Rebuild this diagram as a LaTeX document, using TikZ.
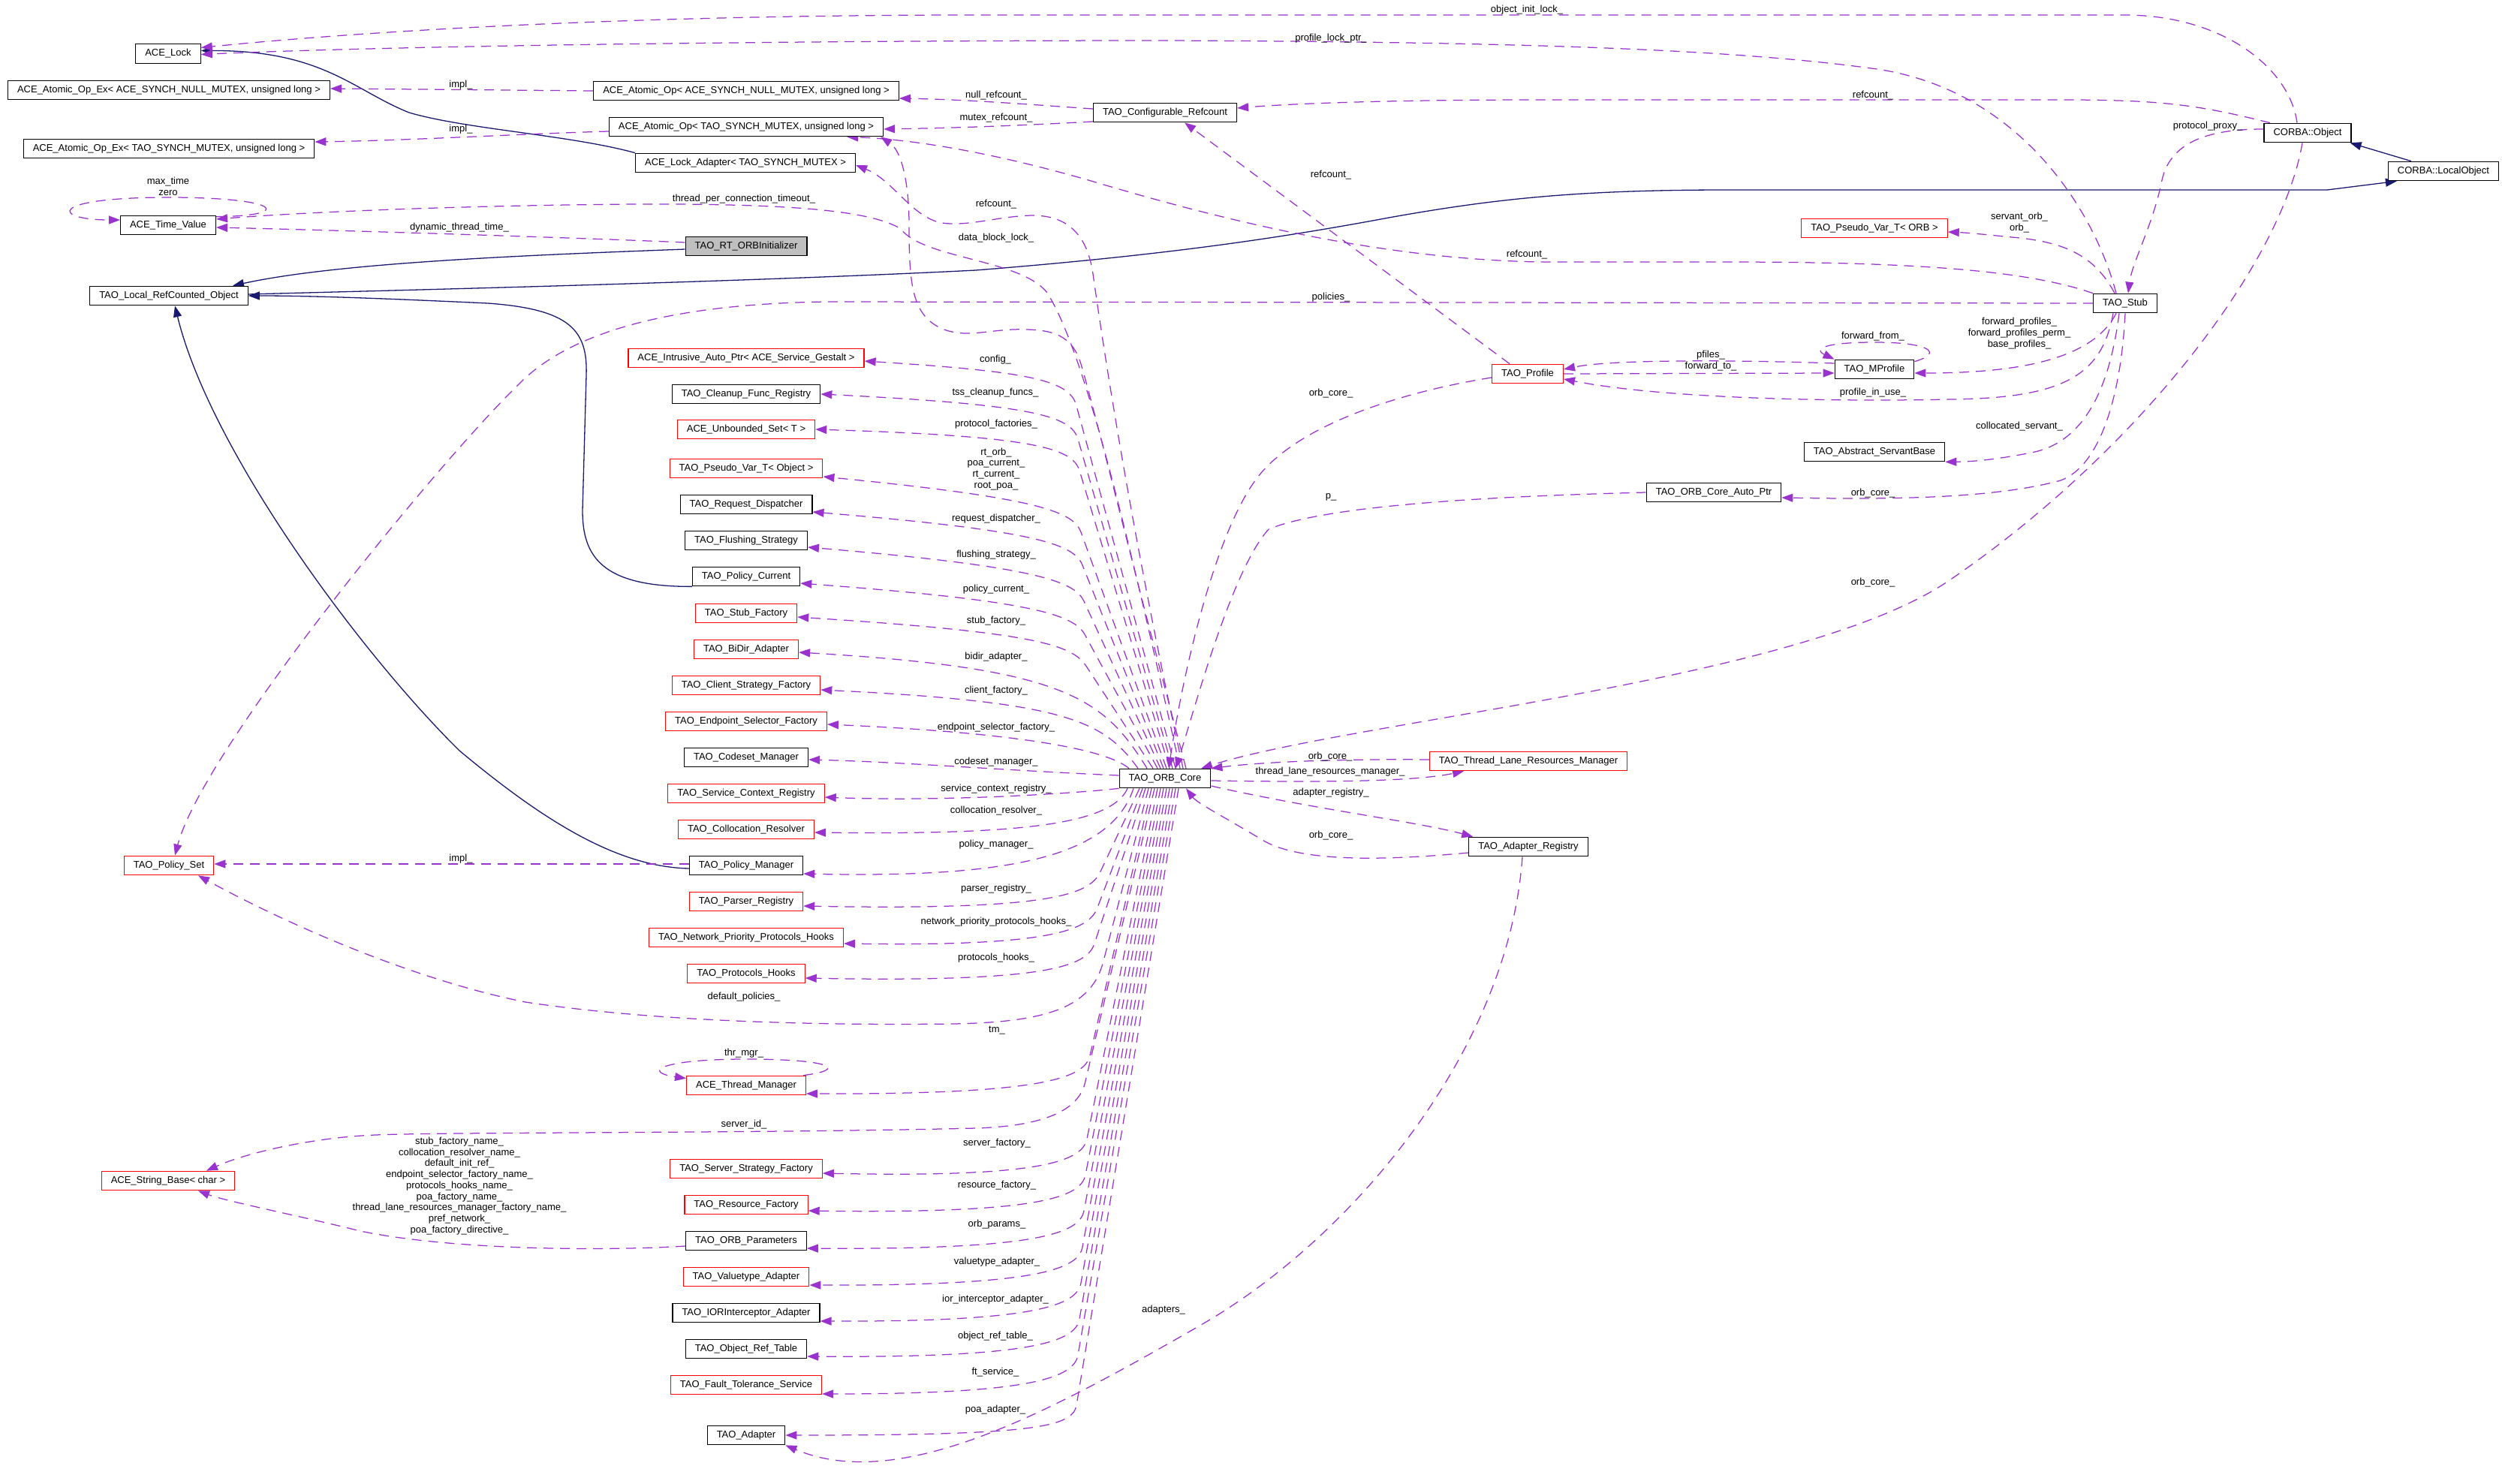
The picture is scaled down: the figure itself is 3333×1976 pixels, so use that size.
\documentclass[tikz,border=0pt]{standalone}
\usepackage{fontspec}
\setmainfont{Liberation Sans}
\usetikzlibrary{arrows.meta}
\definecolor{depc}{HTML}{9A32CD}
\definecolor{inhc}{HTML}{191970}
\definecolor{redc}{HTML}{FF0000}
\pgfdeclarelayer{bg}
\pgfdeclarelayer{edges}
\pgfsetlayers{bg,edges,main}
\begin{document}
\begin{tikzpicture}[x=1pt,y=-1pt,
  every node/.style={font=\fontsize{13}{14.75}\selectfont},
  cls/.style={draw=black,line width=1.2pt,fill=white,inner xsep=12.5pt,inner ysep=0pt,minimum height=25.5pt},
  clsr/.style={cls,draw=redc},
  mainc/.style={cls,fill=black!25},
  lbl/.style={inner sep=0pt,align=center},
  depline/.style={draw=depc,line width=1.25pt,dash pattern=on 13pt off 9pt,-{Triangle[length=15pt,width=11pt]}},
  inhline/.style={draw=inhc,line width=1.3pt,-{Triangle[length=15pt,width=11pt]}}]
\useasboundingbox (0,0) rectangle (3333,1976);
\begin{pgfonlayer}{bg}
\fill[white] (0,0) rectangle (3333,1976);
\end{pgfonlayer}

% ---------- nodes ----------
\node[cls] (lock) at (224,71.5) {ACE\_Lock};
\node[cls] (aopexnull) at (225,120) {ACE\_Atomic\_Op\_Ex< ACE\_SYNCH\_NULL\_MUTEX, unsigned long >};
\node[cls] (aopnull) at (994,121) {ACE\_Atomic\_Op< ACE\_SYNCH\_NULL\_MUTEX, unsigned long >};
\node[cls] (aoptao) at (994,169) {ACE\_Atomic\_Op< TAO\_SYNCH\_MUTEX, unsigned long >};
\node[cls] (aopextao) at (225,198) {ACE\_Atomic\_Op\_Ex< TAO\_SYNCH\_MUTEX, unsigned long >};
\node[cls] (lockad) at (993,217) {ACE\_Lock\_Adapter< TAO\_SYNCH\_MUTEX >};
\node[cls] (timev) at (224,300) {ACE\_Time\_Value};
\node[mainc] (rtinit) at (994,328) {TAO\_RT\_ORBInitializer};
\node[cls] (lrco) at (225,394) {TAO\_Local\_RefCounted\_Object};
\node[cls] (cfgref) at (1552,150) {TAO\_Configurable\_Refcount};
\node[cls] (cobj) at (3074,177) {CORBA::Object};
\node[cls] (clocal) at (3255,228) {CORBA::LocalObject};
\node[clsr] (pvorb) at (2497,304) {TAO\_Pseudo\_Var\_T< ORB >};
\node[cls] (stub) at (2831,404) {TAO\_Stub};
\node[clsr] (profile) at (2035,498) {TAO\_Profile};
\node[cls] (mprofile) at (2497,492) {TAO\_MProfile};
\node[cls] (servant) at (2497,602) {TAO\_Abstract\_ServantBase};
\node[cls] (autoptr) at (2283,656) {TAO\_ORB\_Core\_Auto\_Ptr};
\node[cls] (orb) at (1552,1037) {TAO\_ORB\_Core};
\node[clsr] (tlrm) at (2036,1014) {TAO\_Thread\_Lane\_Resources\_Manager};
\node[cls] (areg) at (2036,1128) {TAO\_Adapter\_Registry};
\node[clsr] (pset) at (225,1153) {TAO\_Policy\_Set};
\node[clsr] (strbase) at (224,1573) {ACE\_String\_Base< char >};

\node[clsr] (gestalt) at (994,477) {ACE\_Intrusive\_Auto\_Ptr< ACE\_Service\_Gestalt >};
\node[cls] (cleanup) at (994,525) {TAO\_Cleanup\_Func\_Registry};
\node[clsr] (unbset) at (994,572) {ACE\_Unbounded\_Set< T >};
\node[clsr] (pvobj) at (994,624) {TAO\_Pseudo\_Var\_T< Object >};
\node[cls] (reqdisp) at (994,672) {TAO\_Request\_Dispatcher};
\node[cls] (flush) at (994,720) {TAO\_Flushing\_Strategy};
\node[cls] (polcur) at (994,768) {TAO\_Policy\_Current};
\node[clsr] (stubfac) at (994,817) {TAO\_Stub\_Factory};
\node[clsr] (bidir) at (994,865) {TAO\_BiDir\_Adapter};
\node[clsr] (clifac) at (994,913) {TAO\_Client\_Strategy\_Factory};
\node[clsr] (epsel) at (994,961) {TAO\_Endpoint\_Selector\_Factory};
\node[cls] (codeset) at (994,1009) {TAO\_Codeset\_Manager};
\node[clsr] (svcctx) at (994,1057) {TAO\_Service\_Context\_Registry};
\node[clsr] (colloc) at (994,1105) {TAO\_Collocation\_Resolver};
\node[cls] (polmgr) at (994,1153) {TAO\_Policy\_Manager};
\node[clsr] (parser) at (994,1201) {TAO\_Parser\_Registry};
\node[clsr] (nphooks) at (994,1249) {TAO\_Network\_Priority\_Protocols\_Hooks};
\node[clsr] (phooks) at (994,1297) {TAO\_Protocols\_Hooks};
\node[clsr] (thrmgr) at (994,1446) {ACE\_Thread\_Manager};
\node[clsr] (svrfac) at (994,1557) {TAO\_Server\_Strategy\_Factory};
\node[clsr] (resfac) at (994,1605) {TAO\_Resource\_Factory};
\node[cls] (orbparams) at (994,1653) {TAO\_ORB\_Parameters};
\node[clsr] (vtadapter) at (994,1701) {TAO\_Valuetype\_Adapter};
\node[cls] (iorint) at (994,1749) {TAO\_IORInterceptor\_Adapter};
\node[cls] (objref) at (994,1797) {TAO\_Object\_Ref\_Table};
\node[clsr] (ftsvc) at (994,1845) {TAO\_Fault\_Tolerance\_Service};
\node[cls] (adapter) at (994,1912) {TAO\_Adapter};

% ---------- labels ----------
\node[lbl] (l01) at (2034,13) {object\_init\_lock\_};
\node[lbl] (l02) at (1773,51) {profile\_lock\_ptr\_};
\node[lbl] (l03) at (614,113) {impl\_};
\node[lbl] (l04) at (614,172) {impl\_};
\node[lbl] (l05) at (1327,127) {null\_refcount\_};
\node[lbl] (l06) at (1327,157) {mutex\_refcount\_};
\node[lbl] (l07) at (2495,127) {refcount\_};
\node[lbl] (l08) at (1773,233) {refcount\_};
\node[lbl] (l09) at (1327,272) {refcount\_};
\node[lbl] (l10) at (1327,317) {data\_block\_lock\_};
\node[lbl] (l11) at (2034,339) {refcount\_};
\node[lbl] (l12) at (991,265) {thread\_per\_connection\_timeout\_};
\node[lbl] (l13) at (612,303) {dynamic\_thread\_time\_};
\node[lbl] (l14) at (224,248.5) {max\_time\\zero};
\node[lbl] (l15) at (2941,168) {protocol\_proxy\_};
\node[lbl] (l16) at (2690,296.5) {servant\_orb\_\\orb\_};
\node[lbl] (l17) at (1773,396) {policies\_};
\node[lbl] (l18) at (1326,479) {config\_};
\node[lbl] (l19) at (1326,523) {tss\_cleanup\_funcs\_};
\node[lbl] (l20) at (1327,565) {protocol\_factories\_};
\node[lbl] (l21) at (1327,625) {rt\_orb\_\\poa\_current\_\\rt\_current\_\\root\_poa\_};
\node[lbl] (l22) at (1327,691) {request\_dispatcher\_};
\node[lbl] (l23) at (1327,739) {flushing\_strategy\_};
\node[lbl] (l24) at (1327,785) {policy\_current\_};
\node[lbl] (l25) at (1327,827) {stub\_factory\_};
\node[lbl] (l26) at (1327,875) {bidir\_adapter\_};
\node[lbl] (l27) at (1327,920) {client\_factory\_};
\node[lbl] (l28) at (1327,969) {endpoint\_selector\_factory\_};
\node[lbl] (l29) at (1327,1015) {codeset\_manager\_};
\node[lbl] (l30) at (1327,1051) {service\_context\_registry\_};
\node[lbl] (l31) at (1327,1080) {collocation\_resolver\_};
\node[lbl] (l32) at (1327,1125) {policy\_manager\_};
\node[lbl] (l33) at (1327,1184) {parser\_registry\_};
\node[lbl] (l34) at (1327,1228) {network\_priority\_protocols\_hooks\_};
\node[lbl] (l35) at (1327,1276) {protocols\_hooks\_};
\node[lbl] (l36) at (991,1328) {default\_policies\_};
\node[lbl] (l37) at (1328,1373) {tm\_};
\node[lbl] (l38) at (991,1403) {thr\_mgr\_};
\node[lbl] (l39) at (991,1498) {server\_id\_};
\node[lbl] (l40) at (1328,1523) {server\_factory\_};
\node[lbl] (l41) at (1328,1579) {resource\_factory\_};
\node[lbl] (l42) at (1328,1631) {orb\_params\_};
\node[lbl] (l43) at (1328,1681) {valuetype\_adapter\_};
\node[lbl] (l44) at (1326,1731) {ior\_interceptor\_adapter\_};
\node[lbl] (l45) at (1326,1780) {object\_ref\_table\_};
\node[lbl] (l46) at (1326,1828) {ft\_service\_};
\node[lbl] (l47) at (1326,1878) {poa\_adapter\_};
\node[lbl] (l48) at (1550,1745) {adapters\_};
\node[lbl] (l49) at (612,1580) {stub\_factory\_name\_\\collocation\_resolver\_name\_\\default\_init\_ref\_\\endpoint\_selector\_factory\_name\_\\protocols\_hooks\_name\_\\poa\_factory\_name\_\\thread\_lane\_resources\_manager\_factory\_name\_\\pref\_network\_\\poa\_factory\_directive\_};
\node[lbl] (l50) at (1773,524) {orb\_core\_};
\node[lbl] (l51) at (1773,662) {p\_};
\node[lbl] (l52) at (2495,657) {orb\_core\_};
\node[lbl] (l53) at (2495,776) {orb\_core\_};
\node[lbl] (l54) at (2690,568) {collocated\_servant\_};
\node[lbl] (l55) at (2690,444) {forward\_profiles\_\\forward\_profiles\_perm\_\\base\_profiles\_};
\node[lbl] (l56) at (2495,448) {forward\_from\_};
\node[lbl] (l57) at (2279,473) {pfiles\_};
\node[lbl] (l58) at (2279,488) {forward\_to\_};
\node[lbl] (l59) at (2495,523) {profile\_in\_use\_};
\node[lbl] (l60) at (1772,1008) {orb\_core\_};
\node[lbl] (l61) at (1772,1028) {thread\_lane\_resources\_manager\_};
\node[lbl] (l62) at (1773,1056) {adapter\_registry\_};
\node[lbl] (l63) at (1773,1113) {orb\_core\_};
\node[lbl] (l64) at (614,1144) {impl\_};

\begin{pgfonlayer}{edges}
% ---------- inheritance ----------
\draw[inhline] (lockad.north west) .. controls (760,180) and (620,172) .. (545,150) .. controls (470,120) and (430,67) .. ([yshift=4pt]lock.east);
\draw[inhline] ([yshift=-4pt]rtinit.west) .. controls (700,340) and (450,350) .. ([xshift=85pt]lrco.north);
\draw[inhline] ([yshift=2pt]lrco.east) .. controls (600,385) and (1000,375) .. (1300,360) .. controls (1550,340) and (1700,318) .. (1850,290) .. controls (1990,265) and (2100,253) .. (2300,253) -- (3100,253) -- ([xshift=12pt]clocal.south west);
\draw[inhline] (polcur.south west) .. controls (800,782) and (776,740) .. (776,680) -- (781,500) .. controls (783,440) and (760,412) .. (650,404) .. controls (520,398) and (420,394) .. (lrco.east);
\draw[inhline] ([yshift=-4pt]polmgr.west) .. controls (820,1155) and (720,1090) .. (612,1000) .. controls (480,870) and (280,600) .. ([xshift=8pt]lrco.south);
\draw[inhline] ([xshift=-43pt]clocal.north) -- ([xshift=-2pt]cobj.south east);

% ---------- top dependencies ----------
\draw[depline] ([xshift=-14pt]cobj.north) .. controls (3050,90) and (2960,20) .. (2830,20) -- (1300,20) .. controls (800,20) and (450,45) .. ([yshift=8pt]lock.east);
\draw[depline] ([xshift=-12pt]stub.north) .. controls (2790,280) and (2690,120) .. (2500,92) .. controls (2300,64) and (2000,56) .. (1560,54) .. controls (1000,54) and (500,62) .. ([yshift=-1pt]lock.east);
\draw[depline] (aopnull.west) -- ([yshift=2pt]aopexnull.east);
\draw[depline] ([yshift=-6pt]aoptao.west) .. controls (700,178) and (550,187) .. ([yshift=9pt]aopextao.east);
\draw[depline] ([yshift=5pt]cfgref.west) .. controls (1380,140) and (1300,133) .. ([yshift=-10pt]aopnull.east);
\draw[depline] ([yshift=-12pt]cfgref.west) .. controls (1380,166) and (1300,170) .. ([yshift=-3pt]aoptao.east);
\draw[depline] ([xshift=-50pt]cobj.north) .. controls (2930,140) and (2880,133) .. (2750,133) -- (2050,133) .. controls (1850,133) and (1720,138) .. ([yshift=6pt]cfgref.east);
\draw[depline] ([xshift=-24pt]profile.north) -- ([xshift=26pt]cfgref.south);
\draw[depline] (stub.north west) .. controls (2700,360) and (2550,349) .. (2300,349) -- (2050,349) .. controls (1850,345) and (1650,300) .. (1450,240) .. controls (1300,197) and (1200,185) .. ([xshift=-49pt]aoptao.south east);
\draw[depline] (stub.west) -- (1100,402) .. controls (900,405) and (760,440) .. (690,513) .. controls (580,620) and (270,1000) .. ([xshift=8pt]pset.north);
\draw[depline] ([xshift=20pt]orb.north) .. controls (1500,700) and (1445,470) .. (1395,390) .. controls (1360,345) and (1230,345) .. (1200,305) .. controls (1160,280) and (1050,271) .. (840,272) .. controls (600,274) and (400,283) .. ([yshift=8pt]timev.east);
\draw[depline] ([xshift=24pt]orb.north) .. controls (1505,700) and (1468,450) .. (1456,365) .. controls (1448,310) and (1420,287) .. (1375,287) .. controls (1330,288) and (1290,302) .. (1255,297) .. controls (1215,290) and (1190,240) .. ([yshift=-3pt]lockad.east);
\draw[depline] ([xshift=28pt]orb.north) .. controls (1510,760) and (1462,560) .. (1440,485) .. controls (1428,445) and (1400,440) .. (1368,439) .. controls (1320,437) and (1290,452) .. (1255,438) .. controls (1215,420) and (1211,380) .. (1211,300) .. controls (1211,240) and (1200,200) .. ([xshift=-4pt]aoptao.south east);
\draw[depline] ([yshift=5pt]rtinit.west) .. controls (800,318) and (500,308) .. ([yshift=-3pt]timev.east);
\draw[depline] ([yshift=-2pt]timev.north east) .. controls (390,288) and (380,263) .. (224,263) .. controls (60,263) and (70,293) .. ([yshift=7pt]timev.west);

% ---------- right side ----------
\draw[depline] ([xshift=-14pt]stub.north) .. controls (2790,340) and (2750,322) .. (2680,316) .. controls (2640,312) and (2620,310) .. ([yshift=-5pt]pvorb.east);
\draw[depline] ([yshift=5pt]cobj.west) .. controls (2950,172) and (2892,185) .. (2880,240) .. controls (2868,300) and (2840,350) .. ([xshift=4pt]stub.north);
\draw[depline] ([xshift=-7pt]cobj.south) .. controls (3040,350) and (2850,600) .. (2597,773) .. controls (2400,908) and (1800,960) .. ([xshift=48pt]orb.north);
\draw[depline] (stub.south) .. controls (2826,520) and (2800,620) .. (2745,640) .. controls (2650,666) and (2500,665) .. ([yshift=-7pt]autoptr.east);
\draw[depline] ([xshift=-8pt]stub.south) .. controls (2810,520) and (2775,590) .. (2706,603) .. controls (2660,612) and (2630,615) .. (servant.south east);
\draw[depline] ([xshift=-12pt]stub.south) .. controls (2790,475) and (2700,497) .. ([yshift=-5pt]mprofile.east);
\draw[depline] ([xshift=-16pt]stub.south) .. controls (2800,500) and (2750,530) .. (2600,532) .. controls (2400,536) and (2200,528) .. ([yshift=-7pt]profile.east);
\draw[depline] ([yshift=8pt]mprofile.west) .. controls (2330,480) and (2150,478) .. ([yshift=6pt]profile.east);
\draw[depline] (profile.east) -- ([yshift=-5pt]mprofile.west);
\draw[depline] ([yshift=-3pt]mprofile.north east) .. controls (2590,470) and (2570,456) .. (2497,456) .. controls (2430,456) and (2415,465) .. (mprofile.north west);
\draw[depline] ([yshift=-5pt]profile.west) .. controls (1880,520) and (1740,560) .. (1680,630) .. controls (1620,700) and (1575,900) .. ([xshift=5pt]orb.north);
\draw[depline] (autoptr.west) .. controls (1950,662) and (1760,676) .. (1690,705) .. controls (1640,760) and (1590,950) .. ([xshift=14pt]orb.north);
\draw[depline] ([yshift=2pt]tlrm.west) .. controls (1800,1011) and (1690,1014) .. (orb.north east);
\draw[depline] ([yshift=-3pt]orb.east) .. controls (1750,1042) and (1880,1042) .. ([xshift=-86pt]tlrm.south);
\draw[depline] ([yshift=-10pt]orb.east) .. controls (1750,1078) and (1890,1095) .. ([xshift=6pt]areg.north west);
\draw[depline] ([yshift=-8pt]areg.west) .. controls (1850,1146) and (1730,1150) .. (1680,1118) .. controls (1625,1085) and (1595,1070) .. ([xshift=28pt]orb.south);
\draw[depline] ([xshift=-8pt]areg.south) .. controls (2010,1400) and (1800,1650) .. (1600,1765) .. controls (1400,1880) and (1200,1990) .. (adapter.south east);

% ---------- ORB core to upper column ----------
\draw[depline] ([xshift=14pt]orb.north) -- (1434,541) .. controls (1426,507) and (1374,495) .. ([yshift=-4pt]gestalt.east);
\draw[depline] ([xshift=10pt]orb.north) -- (1436,585) .. controls (1427,554) and (1376,539) .. (cleanup.east);
\draw[depline] ([xshift=6pt]orb.north) -- (1438,627) .. controls (1429,597) and (1378,581) .. (unbset.east);
\draw[depline] ([xshift=2pt]orb.north) -- (1440,709) .. controls (1430,681) and (1380,663) .. ([yshift=-11pt]pvobj.east);
\draw[depline] ([xshift=-2pt]orb.north) -- (1442,753) .. controls (1431,725) and (1382,707) .. ([yshift=-10pt]reqdisp.east);
\draw[depline] ([xshift=-6pt]orb.north) -- (1444,801) .. controls (1432,775) and (1384,755) .. ([yshift=-9pt]flush.east);
\draw[depline] ([xshift=-10pt]orb.north) -- (1446,847) .. controls (1432,820) and (1386,801) .. ([yshift=-9pt]polcur.east);
\draw[depline] ([xshift=-16pt]orb.north) -- (1448,889) .. controls (1430,860) and (1388,843) .. ([yshift=-5pt]stubfac.east);
\draw[depline] ([xshift=-24pt]orb.north) .. controls (1470,930) and (1420,890) .. ([yshift=-4pt]bidir.east);
\draw[depline] ([xshift=-36pt]orb.north) .. controls (1470,960) and (1420,935) .. ([yshift=-6pt]clifac.east);
\draw[depline] ([xshift=-48pt]orb.north) .. controls (1470,995) and (1330,975) .. ([yshift=-4pt]epsel.east);
\draw[depline] ([yshift=4pt]orb.west) .. controls (1350,1027) and (1200,1015) .. ([yshift=-3pt]codeset.east);
\draw[depline] (orb.south west) .. controls (1420,1058) and (1250,1068) .. ([yshift=-5pt]svcctx.east);
\draw[depline] ([xshift=-50pt]orb.south) .. controls (1480,1100) and (1350,1112) .. ([yshift=-4pt]colloc.east);
\draw[depline] ([xshift=-42pt]orb.south) .. controls (1480,1140) and (1350,1170) .. ([yshift=-11pt]polmgr.east);
\draw[depline] ([yshift=2pt]polmgr.west) -- ([yshift=2pt]pset.east);

% ---------- ORB core to lower column ----------
\draw[depline] ([xshift=-34pt]orb.south) -- (1466,1161) .. controls (1452,1191) and (1406,1213) .. ([yshift=-6pt]parser.east);
\draw[depline] ([xshift=-30pt]orb.south) -- (1462,1209) .. controls (1451,1239) and (1402,1261) .. ([yshift=-8pt]nphooks.east);
\draw[depline] ([xshift=-26pt]orb.south) -- (1458,1257) .. controls (1448,1287) and (1398,1309) .. ([yshift=-6pt]phooks.east);
\draw[depline] ([xshift=-22pt]orb.south) -- (1470,1280) .. controls (1455,1340) and (1400,1362) .. (1268,1364) .. controls (1100,1366) and (880,1362) .. (700,1335) .. controls (550,1305) and (380,1230) .. ([xshift=39pt]pset.south);
\draw[depline] ([xshift=-18pt]orb.south) -- (1452,1406) .. controls (1445,1436) and (1392,1458) .. ([yshift=-11pt]thrmgr.east);
\draw[depline] ([xshift=-4pt]thrmgr.north east) .. controls (1130,1425) and (1110,1411) .. (994,1411) .. controls (880,1411) and (855,1428) .. ([yshift=-4pt]thrmgr.north west);
\draw[depline] ([xshift=-14pt]orb.south) -- (1446,1440) .. controls (1438,1480) and (1390,1500) .. (1300,1503) .. controls (1000,1510) and (600,1508) .. (500,1512) .. controls (420,1515) and (330,1535) .. ([xshift=51pt]strbase.north);
\draw[depline] ([yshift=-7pt]orbparams.west) .. controls (800,1667) and (600,1665) .. (480,1640) .. controls (400,1620) and (300,1600) .. ([xshift=40pt]strbase.south);
\draw[depline] ([xshift=-10pt]orb.south) -- (1448,1517) .. controls (1442,1547) and (1388,1569) .. ([yshift=-6pt]svrfac.east);
\draw[depline] ([xshift=-6pt]orb.south) -- (1446,1565) .. controls (1440,1595) and (1386,1617) .. ([yshift=-8pt]resfac.east);
\draw[depline] ([xshift=-2pt]orb.south) -- (1444,1613) .. controls (1438,1643) and (1384,1665) .. ([yshift=-10pt]orbparams.east);
\draw[depline] ([xshift=2pt]orb.south) -- (1442,1661) .. controls (1437,1691) and (1382,1713) .. ([yshift=-11pt]vtadapter.east);
\draw[depline] ([xshift=6pt]orb.south) -- (1440,1709) .. controls (1435,1739) and (1380,1761) .. ([yshift=-11pt]iorint.east);
\draw[depline] ([xshift=10pt]orb.south) -- (1438,1757) .. controls (1433,1787) and (1378,1809) .. ([yshift=-10pt]objref.east);
\draw[depline] ([xshift=14pt]orb.south) -- (1436,1805) .. controls (1431,1835) and (1376,1857) .. ([yshift=-12pt]ftsvc.east);
\draw[depline] ([xshift=18pt]orb.south) -- (1434,1872) .. controls (1429,1902) and (1374,1912) .. (adapter.east);
\end{pgfonlayer}
\end{tikzpicture}
\end{document}
